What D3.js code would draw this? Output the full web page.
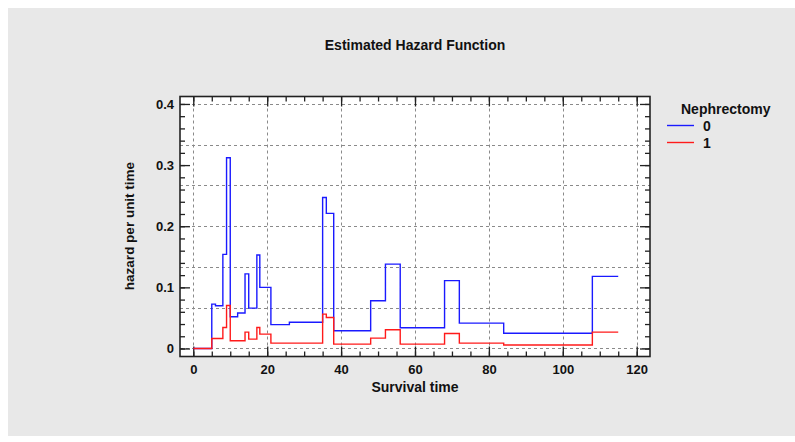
<!DOCTYPE html>
<html>
<head>
<meta charset="utf-8">
<script src="https://cdn.jsdelivr.net/npm/d3@7"></script>
<style>
  html, body { margin: 0; padding: 0; background: #ffffff; }
  svg { display: block; }
  text { font-family: "Liberation Sans", Arial, sans-serif; font-weight: bold; fill: #111; }
</style>
</head>
<body>
<svg id="chart" width="795" height="442"></svg>
<script>
// ---- data ----
const times = [0, 5, 6, 8, 9, 10, 12, 14, 15, 17.2, 18, 21, 26, 35, 36, 38, 48, 52, 56, 68, 72, 84, 108, 115];
const hazard0 = [0, 0.0725, 0.070, 0.154, 0.312, 0.052, 0.058, 0.122, 0.066, 0.153, 0.100, 0.039, 0.043, 0.247, 0.221, 0.029, 0.078, 0.138, 0.034, 0.111, 0.0415, 0.025, 0.118, 0.118];
const hazard1 = [0, 0.0163, 0.0163, 0.0343, 0.0703, 0.0126, 0.0126, 0.0268, 0.0153, 0.0343, 0.0235, 0.0088, 0.0088, 0.0562, 0.0507, 0.0072, 0.017, 0.0306, 0.0072, 0.0245, 0.0088, 0.0056, 0.0268, 0.0268];
const groups = ["0", "1"];
const colors = ["#1a1aff", "#ff1a1a"];
const xTicks = [0, 20, 40, 60, 80, 100, 120];
const xMinor = d3.range(0, 121, 5);
const yTicks = [0, 0.1, 0.2, 0.3, 0.4];
const yMinor = d3.range(0, 0.4001, 0.02);
const yGrid = d3.range(0, 7).map(i => i * 0.4 / 6);
const title = "Estimated Hazard Function";
const xTitle = "Survival time";
const yTitle = "hazard per unit time";
const legendTitle = "Nephrectomy";

// ---- layout ----
const svg = d3.select("#chart");
const L = 180, R = 650, T = 96.5, B = 356.5;

svg.append("rect").attr("x", 8).attr("y", 8).attr("width", 787).attr("height", 428).attr("fill", "#e8e8e8");
svg.append("rect").attr("x", L).attr("y", T).attr("width", R - L).attr("height", B - T).attr("fill", "#ffffff");

const x = d3.scaleLinear().domain([-3.6, 123.6]).range([L, R]);
const y = d3.scaleLinear().domain([-0.0131, 0.4122]).range([B, T]);

// grid
const grid = svg.append("g").attr("stroke", "#8a8a8a").attr("stroke-width", 1).attr("stroke-dasharray", "3,3");
grid.selectAll("line.gx").data(xTicks).join("line").attr("class", "gx")
  .attr("x1", d => Math.round(x(d)) + 0.5).attr("x2", d => Math.round(x(d)) + 0.5)
  .attr("y1", T).attr("y2", B);
grid.selectAll("line.gy").data(yGrid).join("line").attr("class", "gy")
  .attr("y1", d => Math.round(y(d)) + 0.5).attr("y2", d => Math.round(y(d)) + 0.5)
  .attr("x1", L).attr("x2", R);

// axes (inward ticks)
function styleAxis(g) {
  g.select(".domain").remove();
  g.selectAll(".tick line").attr("stroke", "#222").attr("stroke-width", 1.3);
  g.selectAll("text").attr("font-size", 13).attr("fill", "#111");
}
svg.append("g").attr("transform", `translate(${L},0)`)
  .call(d3.axisLeft(y).tickValues(yMinor).tickSize(-5).tickFormat(""))
  .call(styleAxis);
svg.append("g").attr("transform", `translate(${L},0)`)
  .call(d3.axisLeft(y).tickValues(yTicks).tickSize(-10).tickPadding(6).tickFormat(d => d === 0 ? "0" : d3.format(".1f")(d)))
  .call(styleAxis);
svg.append("g").attr("transform", `translate(${R},0)`)
  .call(d3.axisRight(y).tickValues(yMinor).tickSize(-5).tickFormat(""))
  .call(styleAxis);
svg.append("g").attr("transform", `translate(${R},0)`)
  .call(d3.axisRight(y).tickValues(yTicks).tickSize(-10).tickFormat(""))
  .call(styleAxis);
svg.append("g").attr("transform", `translate(0,${B})`)
  .call(d3.axisBottom(x).tickValues(xMinor).tickSize(-5).tickFormat(""))
  .call(styleAxis);
svg.append("g").attr("transform", `translate(0,${B})`)
  .call(d3.axisBottom(x).tickValues(xTicks).tickSize(-10).tickPadding(8).tickFormat(d3.format("d")))
  .call(styleAxis);
svg.append("g").attr("transform", `translate(0,${T})`)
  .call(d3.axisTop(x).tickValues(xMinor).tickSize(-5).tickFormat(""))
  .call(styleAxis);
svg.append("g").attr("transform", `translate(0,${T})`)
  .call(d3.axisTop(x).tickValues(xTicks).tickSize(-10).tickFormat(""))
  .call(styleAxis);

// lines
const line = d3.line().x(d => x(d[0])).y(d => y(d[1])).curve(d3.curveStepAfter);
[hazard0, hazard1].forEach((vals, i) => {
  svg.append("path")
    .datum(times.map((t, j) => [t, vals[j]]))
    .attr("fill", "none").attr("stroke", colors[i]).attr("stroke-width", 1.4)
    .attr("d", line);
});

// frame
svg.append("rect").attr("x", L).attr("y", T).attr("width", R - L).attr("height", B - T)
  .attr("fill", "none").attr("stroke", "#222").attr("stroke-width", 1.6);

// titles
svg.append("text").attr("x", 415).attr("y", 50).attr("text-anchor", "middle").attr("font-size", 14).text(title);
svg.append("text").attr("x", 415).attr("y", 392).attr("text-anchor", "middle").attr("font-size", 14).text(xTitle);
svg.append("text").attr("transform", "translate(134,226) rotate(-90)").attr("text-anchor", "middle").attr("font-size", 13.5).text(yTitle);

// legend
svg.append("text").attr("x", 681).attr("y", 114).attr("font-size", 14).text(legendTitle);
groups.forEach((g, i) => {
  const ly = 125.5 + i * 17;
  svg.append("line").attr("x1", 667).attr("x2", 694).attr("y1", ly).attr("y2", ly)
    .attr("stroke", colors[i]).attr("stroke-width", 1.4);
  svg.append("text").attr("x", 703).attr("y", ly + 5).attr("font-size", 14).text(g);
});
</script>
</body>
</html>
